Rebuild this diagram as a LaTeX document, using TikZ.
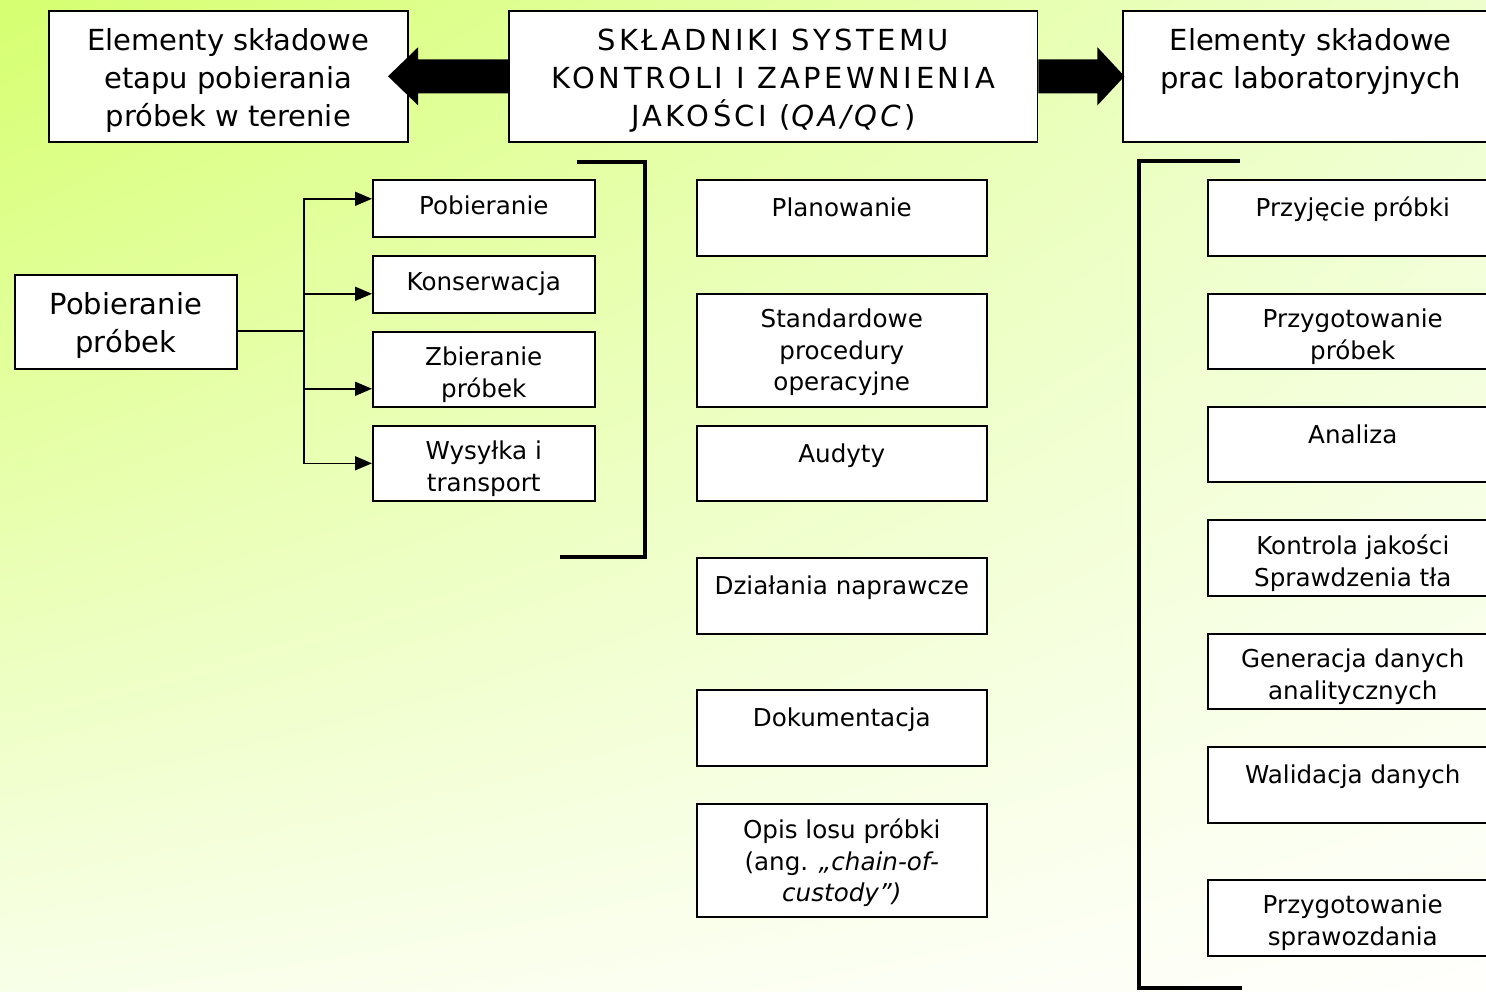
\documentclass[tikz,border=0pt]{standalone}
\usepackage{fontspec}
\setmainfont{DejaVu Sans}
\usepackage{tikz}
\usetikzlibrary{arrows.meta,positioning,shadings}

\definecolor{bgtl}{RGB}{214,255,112}
\definecolor{bgtr}{RGB}{238,255,205}
\definecolor{bgbl}{RGB}{248,255,232}
\definecolor{bgbr}{RGB}{255,255,252}

\tikzset{
    box/.style={draw, fill=white, line width=0.9pt, inner sep=0pt, anchor=north west},
    bigtxt/.style={font=\fontsize{16.5}{21.6}\selectfont, align=center, anchor=north,
        inner sep=0pt, yshift=-0.37cm, execute at begin node=\strut},
    smalltxt/.style={font=\fontsize{14}{18.2}\selectfont, align=center, anchor=north,
        inner sep=0pt, yshift=-0.3cm, execute at begin node=\strut},
    bracket/.style={line width=2.6pt},
    link/.style={line width=0.9pt, -{Triangle[length=0.34cm,width=0.28cm]}},
}

\begin{document}
\begin{tikzpicture}[x=0.02cm, y=-0.02cm]
        \useasboundingbox (0,0) rectangle (1486,991);
        \clip (0,0) rectangle (1486,991);
        \shade[upper left=bgtl, upper right=bgtr, lower left=bgbl, lower right=bgbr]
            (0,0) rectangle (1486,991);

        % top row
        \node[box, minimum width=7.18cm, minimum height=2.62cm] (topl) at (48,10) {};
        \node[bigtxt] (topl-t) at (topl.north) {Elementy składowe\\ etapu pobierania\\ próbek w terenie};
        \node[box, minimum width=10.58cm, minimum height=2.62cm] (topc) at (508,10) {};
        \node[bigtxt] (topc-t) at (topc.north) {\addfontfeatures{LetterSpace=12}SKŁADNIKI SYSTEMU\\
            \addfontfeatures{LetterSpace=12}KONTROLI I ZAPEWNIENIA\\
            \addfontfeatures{LetterSpace=12}JAKOŚCI (\textit{QA/QC})};
        \node[box, minimum width=7.52cm, minimum height=2.62cm] (topr) at (1122,10) {};
        \node[bigtxt] (topr-t) at (topr.north) {Elementy składowe\\ prac laboratoryjnych};

        \fill (topc.west) ++(0,-17) -- ++(-90,0) -- ++(0,-12) -- ++(-30,29)
            -- ++(30,29) -- ++(0,-12) -- ++(90,0) -- cycle;
        \fill (topc.east) ++(0,-17) -- ++(59,0) -- ++(0,-12) -- ++(27,29)
            -- ++(-27,29) -- ++(0,-12) -- ++(-59,0) -- cycle;

        % sampling in the field
        \node[box, minimum width=4.44cm, minimum height=1.88cm] (pob) at (14,274) {};
        \node[bigtxt] (pob-t) at (pob.north) {Pobieranie\\ próbek};
        \node[box, minimum width=4.44cm, minimum height=1.14cm] (pob1) at (372,179) {};
        \node[smalltxt, yshift=0.04cm] (pob1-t) at (pob1.north) {Pobieranie};
        \node[box, minimum width=4.44cm, minimum height=1.14cm] (pob2) at (372,255) {};
        \node[smalltxt, yshift=0.04cm] (pob2-t) at (pob2.north) {Konserwacja};
        \node[box, minimum width=4.44cm, minimum height=1.5cm] (pob3) at (372,331) {};
        \node[smalltxt] (pob3-t) at (pob3.north) {Zbieranie\\ próbek};
        \node[box, minimum width=4.44cm, minimum height=1.5cm] (pob4) at (372,425) {};
        \node[smalltxt] (pob4-t) at (pob4.north) {Wysyłka i\\ transport};

        \coordinate (fork) at (304,331);
        \draw[line width=0.9pt] (pob.east |- fork) -- (fork);
        \draw[link] (fork) |- ([yshift=0.19cm]pob1.west);
        \draw[link] (fork) |- ([yshift=-0.19cm]pob2.west);
        \draw[link] (fork) |- ([yshift=-0.39cm]pob3.west);
        \draw[link] (fork) |- (pob4.west);

        \draw[bracket] (577,162) -- (645,162) -- (645,557) -- (560,557);

        % QA/QC components
        \node[box, minimum width=5.8cm, minimum height=1.52cm] (plan) at (696,179) {};
        \node[smalltxt] (plan-t) at (plan.north) {Planowanie};
        \node[box, minimum width=5.8cm, minimum height=2.26cm] (sop) at (696,293) {};
        \node[smalltxt] (sop-t) at (sop.north) {Standardowe\\ procedury\\ operacyjne};
        \node[box, minimum width=5.8cm, minimum height=1.5cm] (aud) at (696,425) {};
        \node[smalltxt] (aud-t) at (aud.north) {Audyty};
        \node[box, minimum width=5.8cm, minimum height=1.52cm] (napr) at (696,557) {};
        \node[smalltxt] (napr-t) at (napr.north) {Działania naprawcze};
        \node[box, minimum width=5.8cm, minimum height=1.52cm] (dok) at (696,689) {};
        \node[smalltxt] (dok-t) at (dok.north) {Dokumentacja};
        \node[box, minimum width=5.8cm, minimum height=2.26cm] (opis) at (696,803) {};
        \node[smalltxt] (opis-t) at (opis.north) {Opis losu próbki\\
            (ang. \textit{„chain-of-}\\ \textit{custody”)}};

        % laboratory work
        \draw[bracket] (1240,161) -- (1139,161) -- (1139,988) -- (1242,988);

        \node[box, minimum width=5.8cm, minimum height=1.52cm] (lab1) at (1207,179) {};
        \node[smalltxt] (lab1-t) at (lab1.north) {Przyjęcie próbki};
        \node[box, minimum width=5.8cm, minimum height=1.5cm] (lab2) at (1207,293) {};
        \node[smalltxt] (lab2-t) at (lab2.north) {Przygotowanie\\ próbek};
        \node[box, minimum width=5.8cm, minimum height=1.5cm] (lab3) at (1207,406) {};
        \node[smalltxt] (lab3-t) at (lab3.north) {Analiza};
        \node[box, minimum width=5.8cm, minimum height=1.52cm] (lab4) at (1207,519) {};
        \node[smalltxt] (lab4-t) at (lab4.north) {Kontrola jakości\\ Sprawdzenia tła};
        \node[box, minimum width=5.8cm, minimum height=1.5cm] (lab5) at (1207,633) {};
        \node[smalltxt] (lab5-t) at (lab5.north) {Generacja danych\\ analitycznych};
        \node[box, minimum width=5.8cm, minimum height=1.52cm] (lab6) at (1207,746) {};
        \node[smalltxt] (lab6-t) at (lab6.north) {Walidacja danych};
        \node[box, minimum width=5.8cm, minimum height=1.52cm] (lab7) at (1207,879) {};
        \node[smalltxt] (lab7-t) at (lab7.north) {Przygotowanie\\ sprawozdania};
    \end{tikzpicture}
\end{document}
